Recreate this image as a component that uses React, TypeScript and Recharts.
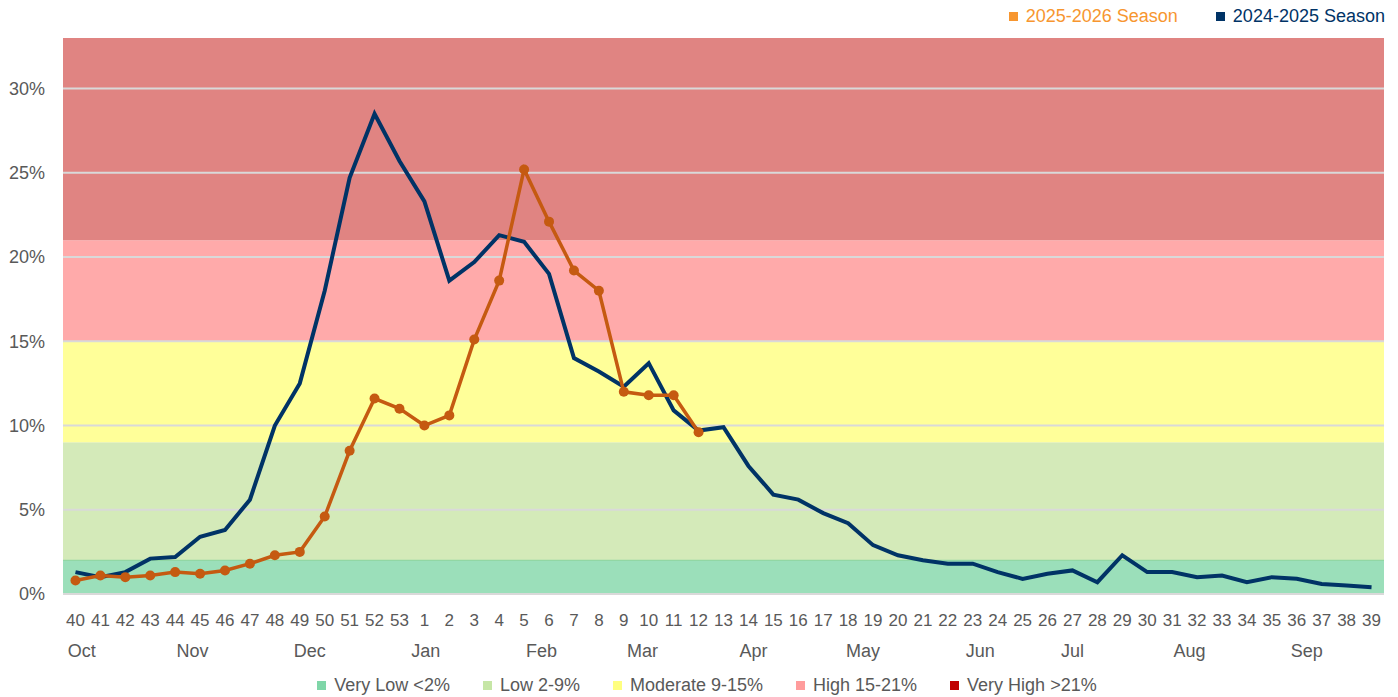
import React from "react";
import {
  LineChart,
  Line,
  XAxis,
  YAxis,
  ReferenceArea,
  ReferenceLine,
} from "recharts";

// MMWR weeks, Oct to Sep
const weeks = [
  40, 41, 42, 43, 44, 45, 46, 47, 48, 49, 50, 51, 52, 53, 1, 2, 3, 4, 5, 6, 7, 8, 9, 10, 11, 12, 13,
  14, 15, 16, 17, 18, 19, 20, 21, 22, 23, 24, 25, 26, 27, 28, 29, 30, 31, 32, 33, 34, 35, 36, 37, 38, 39,
];

// % positive, 2024-2025 season (full year)
const season2425 = [
  1.3, 1.0, 1.3, 2.1, 2.2, 3.4, 3.8, 5.6, 10.0, 12.5, 18.0, 24.7, 28.5, 25.7, 23.3, 18.6, 19.7, 21.3,
  20.9, 19.0, 14.0, 13.2, 12.3, 13.7, 10.9, 9.7, 9.9, 7.6, 5.9, 5.6, 4.8, 4.2, 2.9, 2.3, 2.0, 1.8,
  1.8, 1.3, 0.9, 1.2, 1.4, 0.7, 2.3, 1.3, 1.3, 1.0, 1.1, 0.7, 1.0, 0.9, 0.6, 0.5, 0.4,
];

// % positive, 2025-2026 season (through week 12)
const season2526 = [
  0.8, 1.1, 1.0, 1.1, 1.3, 1.2, 1.4, 1.8, 2.3, 2.5, 4.6, 8.5, 11.6, 11.0, 10.0, 10.6, 15.1, 18.6,
  25.2, 22.1, 19.2, 18.0, 12.0, 11.8, 11.8, 9.6,
];

// month labels and where they sit along the week index
const months = ["Oct", "Nov", "Dec", "Jan", "Feb", "Mar", "Apr", "May", "Jun", "Jul", "Aug", "Sep"];
const monthAt = [0.25, 4.7, 9.4, 14.05, 18.7, 22.75, 27.2, 31.6, 36.3, 40, 44.7, 49.4];

const yTicks = [0, 5, 10, 15, 20, 25, 30];

const bands = [
  { name: "Very Low <2%", from: 0, to: 2, fill: "#9BDFBA", swatch: "#7FD6A8" },
  { name: "Low 2-9%", from: 2, to: 9, fill: "#D4EAB9", swatch: "#C6E6A6" },
  { name: "Moderate 9-15%", from: 9, to: 15, fill: "#FFFF99", swatch: "#FFFF80" },
  { name: "High 15-21%", from: 15, to: 21, fill: "#FFAAAA", swatch: "#FF9C9C" },
  { name: "Very High >21%", from: 21, to: 33, fill: "#E08482", swatch: "#C00000" },
];

const data = weeks.map((w, i) => ({
  i,
  week: w,
  s2425: season2425[i],
  s2526: i < season2526.length ? season2526[i] : null,
}));

const font = "'Liberation Sans', Arial, sans-serif";

export default function App() {
  return (
    <div style={{ position: "relative", width: 1382, height: 689, fontFamily: font }}>
      <div
        style={{
          position: "absolute",
          top: -3,
          right: 5,
          display: "flex",
          gap: 38,
          fontSize: 18,
          lineHeight: "22px",
        }}
      >
        <span style={{ color: "#F7962F", display: "flex", alignItems: "center" }}>
          <span style={{ width: 9, height: 9, background: "#F7962F", marginRight: 8 }} />
          2025-2026 Season
        </span>
        <span style={{ color: "#003366", display: "flex", alignItems: "center" }}>
          <span style={{ width: 9, height: 9, background: "#003366", marginRight: 8 }} />
          2024-2025 Season
        </span>
      </div>

      <LineChart
        width={1382}
        height={689}
        data={data}
        margin={{ top: 30, right: 6, bottom: 33, left: 0 }}
      >
        {bands.map((b) => (
          <ReferenceArea
            key={b.name}
            y1={b.from}
            y2={b.to}
            fill={b.fill}
            fillOpacity={1}
            stroke="none"
            ifOverflow="visible"
          />
        ))}
        <ReferenceLine y={2} stroke="#86D29C" strokeWidth={1} />
        {yTicks.map((t) => (
          <ReferenceLine key={t} y={t} stroke="#D9D9D9" strokeWidth={2} />
        ))}
        <XAxis
          dataKey="i"
          type="number"
          domain={[-0.5, 52.5]}
          allowDataOverflow
          ticks={weeks.map((_, i) => i)}
          interval={0}
          tickFormatter={(v) => String(weeks[v])}
          tickLine={false}
          axisLine={false}
          tickSize={0}
          tickMargin={20}
          height={30}
          tick={{ fill: "#595959", fontSize: 17, fontFamily: font }}
        />
        <XAxis
          xAxisId="m"
          dataKey="i"
          type="number"
          domain={[-0.5, 52.5]}
          allowDataOverflow
          ticks={monthAt}
          interval={0}
          tickFormatter={(v) => months[monthAt.indexOf(v)]}
          tickLine={false}
          axisLine={false}
          tickSize={0}
          tickMargin={20}
          height={40}
          tick={{ fill: "#595959", fontSize: 18, fontFamily: font }}
        />
        <YAxis
          domain={[0, 33]}
          ticks={yTicks}
          interval={0}
          tickFormatter={(v) => `${v}%`}
          tickLine={false}
          axisLine={false}
          tickSize={0}
          tickMargin={18}
          width={55}
          tick={{ fill: "#595959", fontSize: 18, fontFamily: font }}
        />
        <Line
          dataKey="s2425"
          stroke="#003366"
          strokeWidth={4}
          dot={false}
          isAnimationActive={false}
        />
        <Line
          dataKey="s2526"
          stroke="#C55A11"
          strokeWidth={3.5}
          dot={{ r: 5, fill: "#C55A11", stroke: "none" }}
          isAnimationActive={false}
        />
      </LineChart>

      <div
        style={{
          position: "absolute",
          top: 666,
          left: 0,
          width: 1382,
          display: "flex",
          justifyContent: "center",
          paddingLeft: 16,
          boxSizing: "border-box",
          gap: 33,
          fontSize: 18,
          lineHeight: "22px",
          color: "#595959",
        }}
      >
        {bands.map((b) => (
          <span key={b.name} style={{ display: "flex", alignItems: "center" }}>
            <span style={{ width: 9, height: 9, background: b.swatch, marginRight: 8 }} />
            {b.name}
          </span>
        ))}
      </div>
    </div>
  );
}
